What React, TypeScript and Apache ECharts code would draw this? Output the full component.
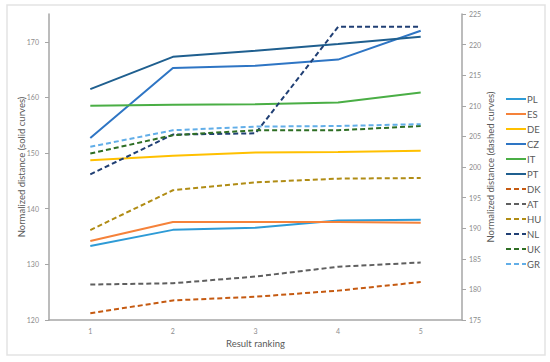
import React, { useEffect, useRef } from "react";
import * as echarts from "echarts";

const categories = ["1", "2", "3", "4", "5"];

const solidNames = ["PL", "ES", "DE", "CZ", "IT", "PT"];
const solidColors = ["#2E9BD6", "#F5823A", "#FFC000", "#2E75C4", "#4AAE45", "#1F5F8F"];
const PL = [133.3, 136.2, 136.6, 137.9, 138.0];
const ES = [134.2, 137.6, 137.6, 137.6, 137.5];
const DE = [148.7, 149.5, 150.1, 150.2, 150.4];
const CZ = [152.7, 165.3, 165.7, 166.8, 172.0];
const IT = [158.5, 158.7, 158.8, 159.1, 160.9];
const PT = [161.5, 167.3, 168.4, 169.6, 170.9];
const solidData = [PL, ES, DE, CZ, IT, PT];

const dashedNames = ["DK", "AT", "HU", "NL", "UK", "GR"];
const dashedColors = ["#C55A11", "#5F5F5F", "#B08C14", "#203F74", "#2E6E24", "#62AEE8"];
const DK = [176.1, 178.2, 178.8, 179.8, 181.2];
const AT = [180.8, 181.0, 182.1, 183.7, 184.4];
const HU = [189.7, 196.2, 197.5, 198.1, 198.2];
const NL = [198.8, 205.3, 205.5, 222.9, 222.9];
const UK = [202.2, 205.2, 206.0, 206.0, 206.7];
const GR = [203.3, 206.0, 206.6, 206.7, 207.0];
const dashedData = [DK, AT, HU, NL, UK, GR];

const FONT = "Lato, 'Open Sans', sans-serif";

export default function App() {
  const ref = useRef<HTMLDivElement>(null);
  useEffect(() => {
    if (!ref.current) return;
    const chart = echarts.init(ref.current, undefined, { renderer: "svg" });
    const series: any[] = [];
    solidNames.forEach((n, i) => {
      series.push({
        name: n,
        type: "line",
        yAxisIndex: 0,
        data: solidData[i],
        symbol: "none",
        lineStyle: { color: solidColors[i], width: 2, type: "solid" },
        itemStyle: { color: solidColors[i] },
      });
    });
    dashedNames.forEach((n, i) => {
      series.push({
        name: n,
        type: "line",
        yAxisIndex: 1,
        data: dashedData[i],
        symbol: "none",
        lineStyle: { color: dashedColors[i], width: 2, type: [5, 3] },
        itemStyle: { color: dashedColors[i] },
      });
    });
    chart.setOption({
      animation: false,
      backgroundColor: "#ffffff",
      textStyle: { fontFamily: FONT },
      graphic: [
        {
          type: "rect",
          shape: { x: 7, y: 5, width: 538, height: 350 },
          style: { fill: "none", stroke: "#e3e3e3", lineWidth: 1.5 },
          silent: true,
        },
      ],
      grid: { left: 49, right: 88, top: 14, bottom: 42 },
      legend: {
        orient: "vertical",
        left: 505,
        top: 94,
        padding: 0,
        itemWidth: 20,
        itemHeight: 10,
        itemGap: 5,
        itemStyle: { opacity: 0 },
        textStyle: { fontSize: 9.5, color: "#595959", fontFamily: FONT, padding: [0, 0, 0, -4] },
        data: [...solidNames, ...dashedNames],
      },
      xAxis: {
        type: "category",
        data: categories,
        boundaryGap: true,
        name: "Result ranking",
        nameLocation: "middle",
        nameGap: 18,
        nameMoveOverlap: false,
        nameTextStyle: { fontSize: 9.5, color: "#595959", fontFamily: FONT },
        axisLine: { lineStyle: { color: "#a6a6a6", width: 1.5 } },
        axisTick: { show: false },
        axisLabel: { fontSize: 7, color: "#8c8c8c", margin: 7 },
        splitLine: { show: false },
      },
      yAxis: [
        {
          type: "value",
          min: 120,
          max: 175,
          interval: 10,
          position: "left",
          name: "Normalized distance (solid curves)",
          nameLocation: "middle",
          nameRotate: 90,
          nameGap: 23,
          nameMoveOverlap: false,
          nameTextStyle: { fontSize: 9.5, color: "#595959", fontFamily: FONT },
          axisLine: { show: true, lineStyle: { color: "#a6a6a6", width: 1.5 } },
          axisTick: { show: true, length: 4, lineStyle: { color: "#a6a6a6" } },
          axisLabel: { fontSize: 7, color: "#8c8c8c", margin: 10, showMaxLabel: false },
          splitLine: { show: false },
        },
        {
          type: "value",
          min: 175,
          max: 225,
          interval: 5,
          position: "right",
          name: "Normalized distance (dashed curves)",
          nameLocation: "middle",
          nameRotate: 90,
          nameGap: 23,
          nameMoveOverlap: false,
          nameTextStyle: { fontSize: 9.5, color: "#595959", fontFamily: FONT },
          axisLine: { show: true, lineStyle: { color: "#a6a6a6", width: 1.5 } },
          axisTick: { show: true, length: 4, lineStyle: { color: "#a6a6a6" } },
          axisLabel: { fontSize: 7, color: "#8c8c8c", margin: 7 },
          splitLine: { show: false },
        },
      ],
      series,
    });
    return () => chart.dispose();
  }, []);
  return (
    <div
      ref={ref}
      style={{ position: "absolute", left: 0, top: 0, width: 550, height: 362 }}
    />
  );
}
